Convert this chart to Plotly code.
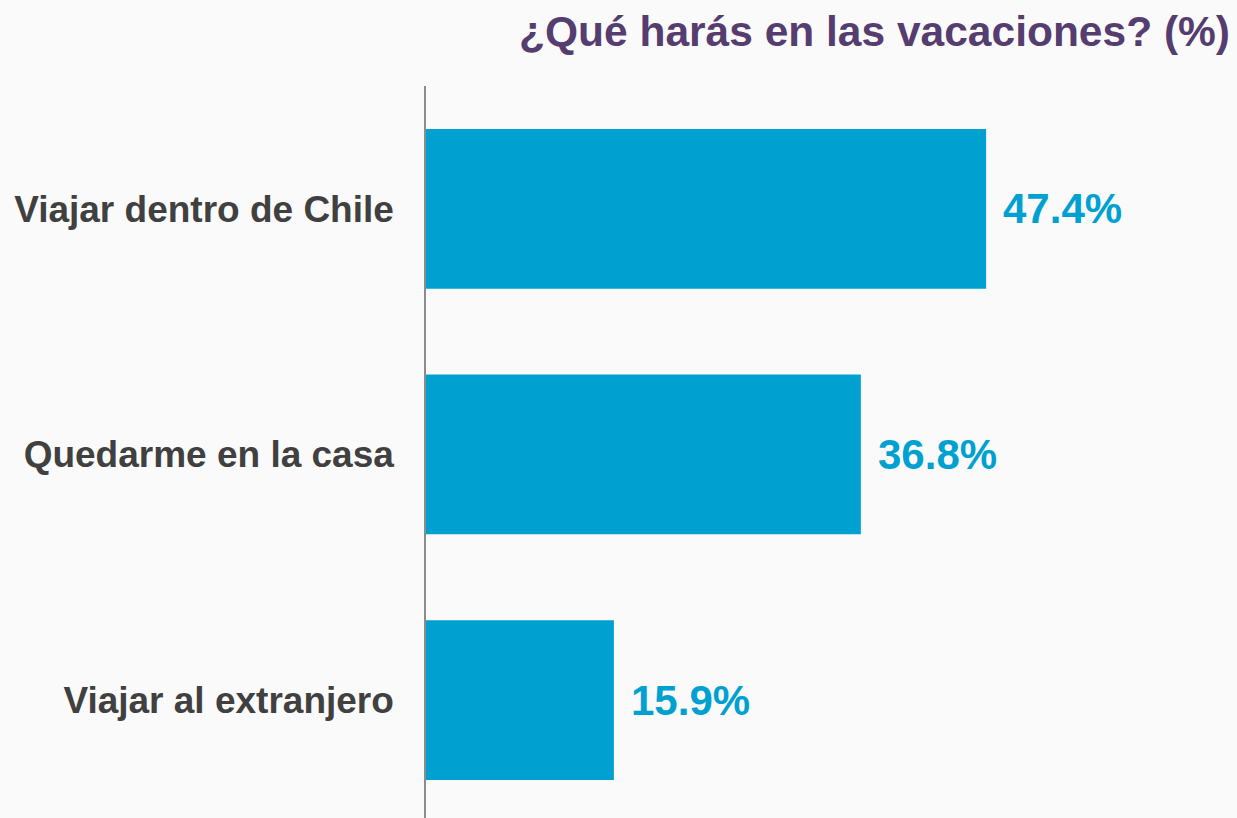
import plotly.graph_objects as go

categories = ["Viajar dentro de Chile", "Quedarme en la casa", "Viajar al extranjero"]
values = [47.4, 36.8, 15.9]
value_labels = ["47.4%", "36.8%", "15.9%"]
title_text = "¿Qué harás en las vacaciones? (%)"

BAR = "#00A1D1"
FONT = "Liberation Sans, Arial, sans-serif"

fig = go.Figure()
fig.add_trace(go.Bar(
    x=values, y=list(range(len(categories))), orientation="h",
    marker=dict(color=BAR, line=dict(width=0)), width=0.65,
    hoverinfo="skip",
))
for i, (v, t) in enumerate(zip(values, value_labels)):
    fig.add_annotation(x=v, y=i, text=f"<b>{t}</b>", showarrow=False,
                       xanchor="left", yanchor="middle", xshift=15,
                       font=dict(family=FONT, size=42, color=BAR))

fig.update_layout(
    width=1237, height=818,
    margin=dict(l=426, r=102, t=86, b=0),
    paper_bgcolor="#FAFAFA", plot_bgcolor="#FAFAFA",
    showlegend=False,
    title=dict(text=f"<b>{title_text}</b>", x=1230 / 1237, xanchor="right", xref="container",
               y=1 - 16 / 818, yanchor="top", yref="container",
               font=dict(family=FONT, size=42.5, color="#553D70")),
    xaxis=dict(range=[0, 60], visible=False, showgrid=False, zeroline=False),
    yaxis=dict(range=[2.48, -0.5], tickvals=list(range(len(categories))),
               ticktext=[f"<b>{c}</b>" for c in categories],
               showgrid=False, zeroline=False, showline=True,
               linecolor="#8C8C8C", linewidth=1.5, ticks="",
               ticklabelstandoff=23,
               tickfont=dict(family=FONT, size=37, color="#404040")),
)
fig.write_html("out.html", config={"displayModeBar": False},
               post_script="document.body.style.margin='0';document.body.style.background='#FAFAFA';")
